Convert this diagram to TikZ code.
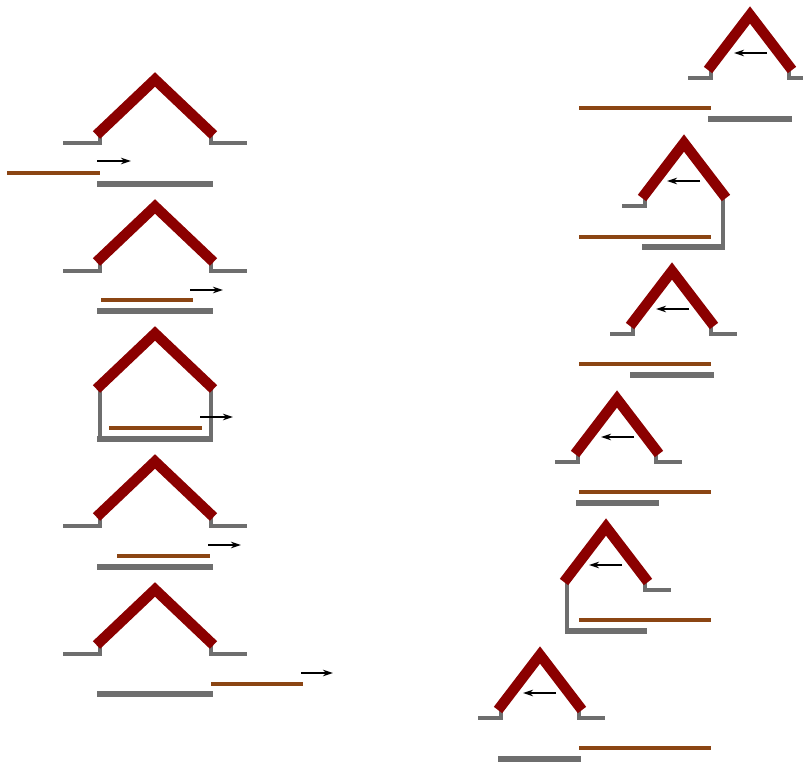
\documentclass[tikz,border=0pt]{standalone}
\usetikzlibrary{arrows.meta}
\definecolor{roofred}{HTML}{8B0000}
\definecolor{wallgray}{HTML}{6E6E6E}
\definecolor{railbrown}{HTML}{8B4513}
\tikzset{
  roof/.style={draw=roofred, line width=10.5pt, line join=miter, line cap=butt},
  post/.style={draw=wallgray, line width=4pt, line join=miter},
  floorbar/.style={draw=wallgray, line width=5.5pt},
  rail/.style={draw=railbrown, line width=4pt},
  mv/.style={draw=black, line width=1.4pt, -{Stealth[length=10pt,width=6.5pt]}}
}
% left-column house (px = apex x, py = apex top)
\newcommand\LRoof[2]{\draw[roof] ({#1-58.5},{#2+63}) -- (#1,{#2+7.5}) -- ({#1+58.5},{#2+63});}
\newcommand\LGndL[2]{\draw[post] ({#1-55.5},{#2+60}) -- ({#1-55.5},{#2+71.5}) -- ({#1-92},{#2+71.5});}
\newcommand\LGndR[2]{\draw[post] ({#1+55.5},{#2+60}) -- ({#1+55.5},{#2+71.5}) -- ({#1+92},{#2+71.5});}
% right-column house
\newcommand\RRoof[2]{\draw[roof] ({#1-42},{#2+64}) -- (#1,{#2+9}) -- ({#1+42},{#2+64});}
\newcommand\RGndL[2]{\draw[post] ({#1-39},{#2+62}) -- ({#1-39},{#2+72}) -- ({#1-62},{#2+72});}
\newcommand\RGndR[2]{\draw[post] ({#1+39},{#2+62}) -- ({#1+39},{#2+72}) -- ({#1+65},{#2+72});}
\begin{document}
\begin{tikzpicture}[x=1pt,y=-1pt]
\useasboundingbox (0,0) rectangle (803,765);
\clip (0,0) rectangle (803,765);
% ---------- left column ----------
% frame 1
\LGndL{155}{72}\LGndR{155}{72}\LRoof{155}{72}
\draw[mv] (97,161) -- (131,161);
\draw[rail] (7,173) -- (100,173);
\draw[floorbar] (97,184) -- (213,184);
% frame 2
\LGndL{155}{199}\LGndR{155}{199}\LRoof{155}{199}
\draw[mv] (190,290) -- (223,290);
\draw[rail] (101,300) -- (193,300);
\draw[floorbar] (97,311) -- (213,311);
% frame 3
\draw[post] (99.5,387) -- (99.5,439);
\draw[post] (210.5,387) -- (210.5,439);
\draw[floorbar] (97,439) -- (213,439);
\LRoof{155}{326}
\draw[mv] (200,417) -- (233,417);
\draw[rail] (109,428) -- (202,428);
% frame 4
\LGndL{155}{454}\LGndR{155}{454}\LRoof{155}{454}
\draw[mv] (208,545) -- (241,545);
\draw[rail] (117,556) -- (210,556);
\draw[floorbar] (97,567) -- (213,567);
% frame 5
\LGndL{155}{582}\LGndR{155}{582}\LRoof{155}{582}
\draw[mv] (301,673) -- (333,673);
\draw[rail] (211,684) -- (303,684);
\draw[floorbar] (97,694) -- (213,694);
% ---------- right column ----------
% frame 1
\RGndL{750}{6}\RGndR{750}{6}\RRoof{750}{6}
\draw[mv] (767,53) -- (734,53);
\draw[rail] (579,108) -- (711,108);
\draw[floorbar] (708,119) -- (792,119);
% frame 2
\RGndL{684}{134}
\draw[post] (723,196) -- (723,247);
\draw[floorbar] (642,247) -- (725,247);
\RRoof{684}{134}
\draw[mv] (700,181) -- (667,181);
\draw[rail] (579,237) -- (711,237);
% frame 3
\RGndL{672}{262}\RGndR{672}{262}\RRoof{672}{262}
\draw[mv] (689,309) -- (656,309);
\draw[rail] (579,364) -- (711,364);
\draw[floorbar] (630,375) -- (714,375);
% frame 4
\RGndL{617}{390}\RGndR{617}{390}\RRoof{617}{390}
\draw[mv] (634,437) -- (601,437);
\draw[rail] (579,492) -- (711,492);
\draw[floorbar] (576,503) -- (659,503);
% frame 5
\draw[post] (567,580) -- (567,631);
\draw[floorbar] (565,631) -- (647,631);
\RGndR{606}{518}
\RRoof{606}{518}
\draw[mv] (622,565) -- (589,565);
\draw[rail] (579,620) -- (711,620);
% frame 6
\RGndL{540}{646}\RGndR{540}{646}\RRoof{540}{646}
\draw[mv] (556,693) -- (523,693);
\draw[rail] (579,748) -- (711,748);
\draw[floorbar] (498,759) -- (581,759);
\end{tikzpicture}
\end{document}
